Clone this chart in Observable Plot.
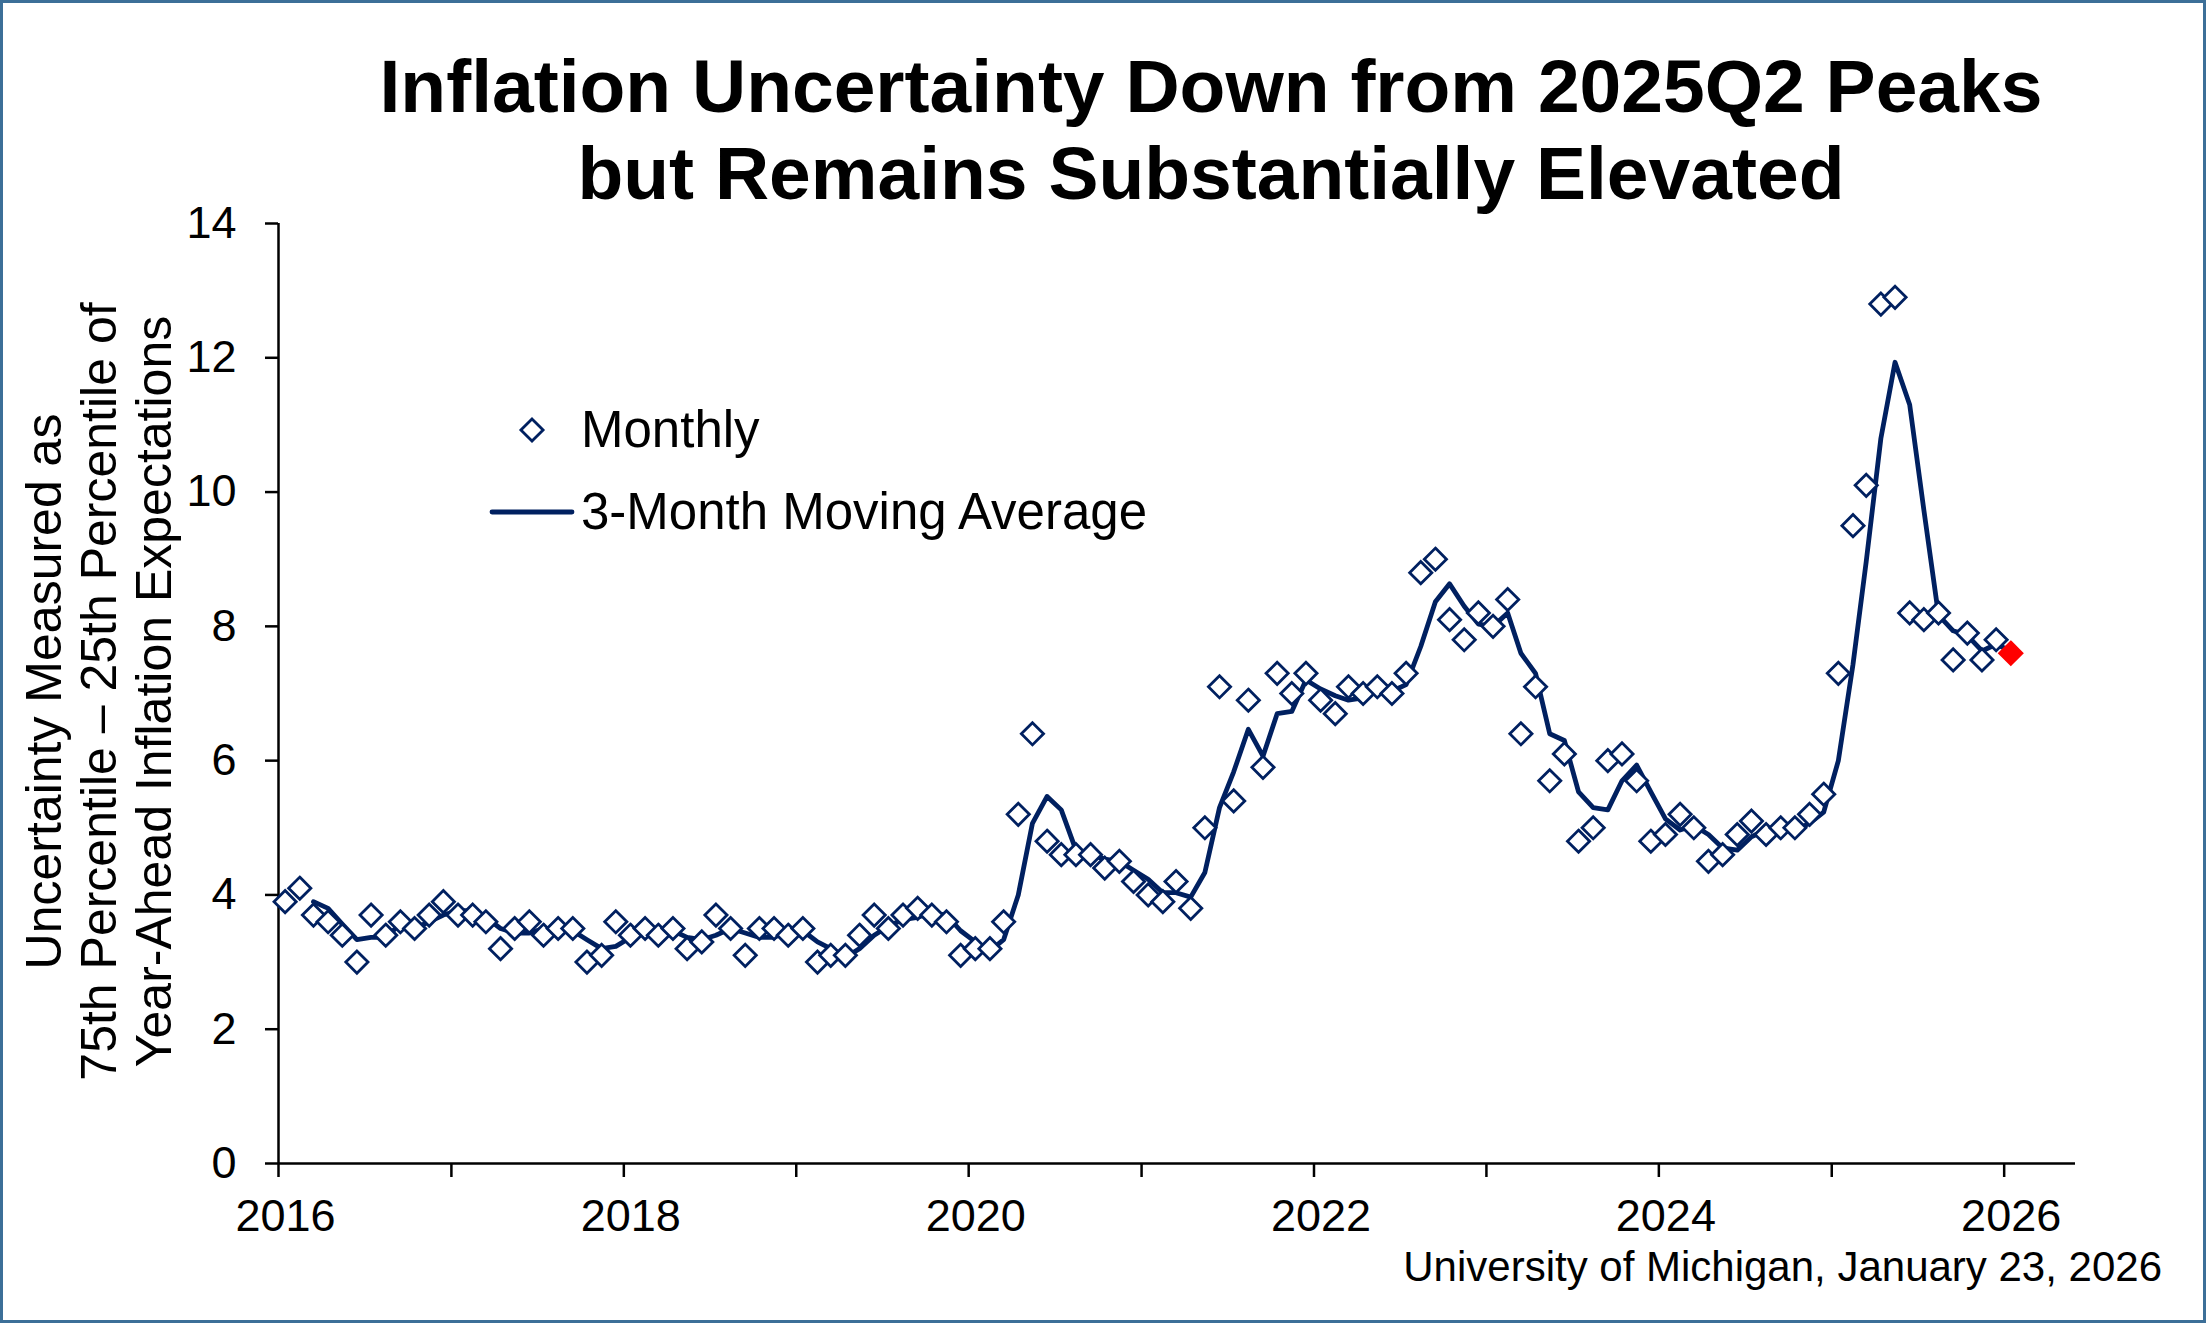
<!DOCTYPE html>
<html>
<head>
<meta charset="utf-8">
<script src="https://cdn.jsdelivr.net/npm/d3@7"></script>
<script src="https://cdn.jsdelivr.net/npm/@observablehq/plot@0.6"></script>
<style>
  html, body { margin: 0; padding: 0; background: #fff; }
  #wrap { position: relative; width: 2206px; height: 1323px; overflow: hidden; background: #fff;
          font-family: "Liberation Sans", Arial, sans-serif; color: #000; }
  #chart { position: absolute; left: 0; top: 0; }
  #title { position: absolute; left: 211px; top: 43px; width: 2000px; text-align: center;
           font-weight: bold; font-size: 75px; line-height: 87px; white-space: nowrap; }
  #ytitle { position: absolute; left: -301px; top: 609px; width: 800px; height: 165px;
            text-align: center; font-size: 50px; line-height: 55px; white-space: nowrap;
            transform: rotate(-90deg); transform-origin: 50% 50%; }
  #legend { position: absolute; left: 0; top: 0; pointer-events: none; }
  #source { position: absolute; left: 1000px; width: 1162px; top: 1246px; text-align: right;
            font-size: 42px; line-height: 42px; white-space: nowrap; }
  #border { position: absolute; left: 0; top: 0; width: 2206px; height: 1323px; box-sizing: border-box;
            border: 3px solid #3c6f98; pointer-events: none; }
</style>
</head>
<body>
<div id="wrap">
  <div id="chart"></div>
  <div id="title">Inflation Uncertainty Down from 2025Q2 Peaks<br>but Remains Substantially Elevated</div>
  <div id="ytitle">Uncertainty Measured as<br>75th Percentile – 25th Percentile of<br>Year-Ahead Inflation Expectations</div>
  <svg id="legend" width="2206" height="1323" xmlns="http://www.w3.org/2000/svg">
    <path d="M532,418.9L543.1,430L532,441.1L520.9,430Z" fill="#fff" stroke="#002060" stroke-width="2.8"/>
    <text x="581" y="447" font-family="Liberation Sans, Arial, sans-serif" font-size="51" fill="#000">Monthly</text>
    <line x1="492" y1="512" x2="572" y2="512" stroke="#002060" stroke-width="4.8" stroke-linecap="round"/>
    <text x="581" y="529" font-family="Liberation Sans, Arial, sans-serif" font-size="51" fill="#000">3-Month Moving Average</text>
  </svg>
  <div id="source">University of Michigan, January 23, 2026</div>
  <div id="border"></div>
</div>
<script>
// Monthly uncertainty values (75th - 25th percentile of year-ahead inflation expectations)
const v2016 = [3.9, 4.1, 3.7, 3.6, 3.4, 3.0, 3.7, 3.4, 3.6, 3.5, 3.7, 3.9];
const v2017 = [3.7, 3.7, 3.6, 3.2, 3.5, 3.6, 3.4, 3.5, 3.5, 3.0, 3.1, 3.6];
const v2018 = [3.4, 3.5, 3.4, 3.5, 3.2, 3.3, 3.7, 3.5, 3.1, 3.5, 3.5, 3.4];
const v2019 = [3.5, 3.0, 3.1, 3.1, 3.4, 3.7, 3.5, 3.7, 3.8, 3.7, 3.6, 3.1];
const v2020 = [3.2, 3.2, 3.6, 5.2, 6.4, 4.8, 4.6, 4.6, 4.6, 4.4, 4.5, 4.2];
const v2021 = [4.0, 3.9, 4.2, 3.8, 5.0, 7.1, 5.4, 6.9, 5.9, 7.3, 7.0, 7.3];
const v2022 = [6.9, 6.7, 7.1, 7.0, 7.1, 7.0, 7.3, 8.8, 9.0, 8.1, 7.8, 8.2];
const v2023 = [8.0, 8.4, 6.4, 7.1, 5.7, 6.1, 4.8, 5.0, 6.0, 6.1, 5.7, 4.8];
const v2024 = [4.9, 5.2, 5.0, 4.5, 4.6, 4.9, 5.1, 4.9, 5.0, 5.0, 5.2, 5.5];
const v2025 = [7.3, 9.5, 10.1, 12.8, 12.9, 8.2, 8.1, 8.2, 7.5, 7.9, 7.5, 7.8];
const v2026 = [7.6];
const years = [2016, 2017, 2018, 2019, 2020, 2021, 2022, 2023, 2024, 2025, 2026];
const labelYears = [2016, 2018, 2020, 2022, 2024, 2026];
const yTicks = [0, 2, 4, 6, 8, 10, 12, 14];

const byYear = [v2016, v2017, v2018, v2019, v2020, v2021, v2022, v2023, v2024, v2025, v2026];
const data = [];
byYear.forEach((arr, yi) => arr.forEach((v, m) => data.push({date: new Date(Date.UTC(years[yi], m, 15)), value: v})));
const latest = data[data.length - 1];
const earlier = data.slice(0, -1);

const navy = "#002060";
const xStart = new Date(Date.UTC(2016, 0, 1));
const xEnd = new Date(Date.UTC(2026, 5, 1));
const yearTicks = years.map(y => new Date(Date.UTC(y, 0, 1)));
const labelTicks = labelYears.map(y => new Date(Date.UTC(y, 0, 1)));

const chart = Plot.plot({
  width: 2206,
  height: 1323,
  marginLeft: 278,
  marginRight: 131,
  marginTop: 223,
  marginBottom: 160,
  style: {fontFamily: "Liberation Sans, Arial, sans-serif", fontSize: "45px", color: "#000", background: "transparent", overflow: "visible"},
  x: {type: "utc", domain: [xStart, xEnd]},
  y: {domain: [0, 14]},
  marks: [
    Plot.axisX({ticks: yearTicks, tickFormat: () => "", tickSize: 14, strokeWidth: 2.5, label: null, stroke: "#000"}),
    Plot.axisX({ticks: labelTicks, tickFormat: d => String(d.getUTCFullYear()), tickSize: 0, tickPadding: 36,
                fontSize: 45, label: null, fill: "#000", dx: 7}),
    Plot.axisY({ticks: yTicks, tickFormat: d => String(d), tickSize: 13, tickPadding: 29, strokeWidth: 2.5,
                fontSize: 45, label: null, stroke: "#000", fill: "#000"}),
    Plot.ruleY([0], {stroke: "#000", strokeWidth: 2.5}),
    Plot.ruleX([xStart], {y1: 0, y2: 14, stroke: "#000", strokeWidth: 2.5}),
    Plot.lineY(data, Plot.windowY({k: 3, anchor: "end", strict: true, reduce: "mean"},
      {x: "date", y: "value", stroke: navy, strokeWidth: 4.8, strokeLinejoin: "round", strokeLinecap: "round"})),
    Plot.dot(earlier, {x: "date", y: "value", symbol: "diamond2", r: 10, fill: "#fff", stroke: navy, strokeWidth: 2.8}),
    Plot.dot([latest], {x: "date", y: "value", symbol: "diamond2", r: 10, fill: "#ff0000", stroke: "#ff0000", strokeWidth: 2.8})
  ]
});
document.getElementById("chart").appendChild(chart);
</script>
</body>
</html>
